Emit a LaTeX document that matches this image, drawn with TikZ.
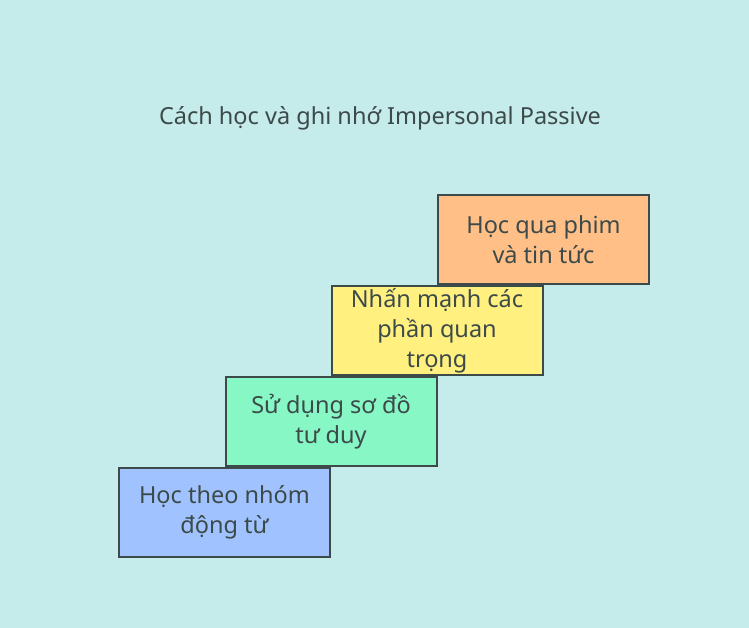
\documentclass[tikz,border=0pt]{standalone}
\usepackage{fontspec}
\setmainfont{Noto Sans}
\usepackage{xcolor}
\definecolor{bgcol}{HTML}{C5EBEA}
\definecolor{inkcol}{HTML}{3C4A4A}
\definecolor{bluecol}{HTML}{A0C3FF}
\definecolor{greencol}{HTML}{86F7C5}
\definecolor{yellowcol}{HTML}{FFF080}
\definecolor{orangecol}{HTML}{FFBF86}

\tikzset{
  stepbox/.style={draw=inkcol, line width=2pt, minimum width=211pt, minimum height=89pt,
    align=center, text=inkcol, inner sep=0pt,
    font=\fontsize{23.5}{30}\selectfont},
  headline/.style={text=inkcol, font=\fontsize{23.5}{28}\selectfont}
}

\begin{document}
\begin{tikzpicture}[x=1pt, y=-1pt]
    \fill[bgcol] (0,0) rectangle (749,628);
    \useasboundingbox (0,0) rectangle (749,628);
    \node[headline] (title) at (380,118) {Cách học và ghi nhớ Impersonal Passive};
    \node[stepbox, fill=bluecol] (nhom) at (224.5,512.5) {Học theo nhóm\\động từ};
    \node[stepbox, fill=greencol] (sodo) at (331,421.5) {Sử dụng sơ đồ\\tư duy};
    \node[stepbox, fill=yellowcol] (nhan) at (437,330.5) {Nhấn mạnh các\\phần quan\\trọng};
    \node[stepbox, fill=orangecol] (phim) at (543.5,239.5) {Học qua phim\\và tin tức};
  \end{tikzpicture}
\end{document}
